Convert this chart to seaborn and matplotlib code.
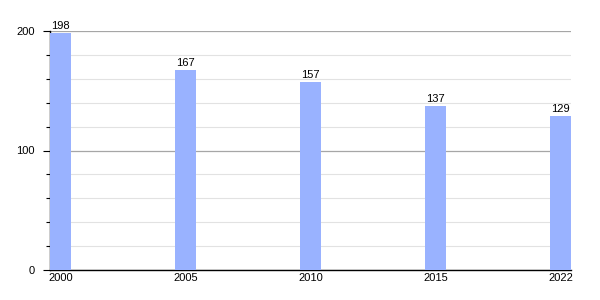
import matplotlib
matplotlib.use("Agg")
import matplotlib.pyplot as plt
from matplotlib.ticker import MultipleLocator
import seaborn as sns
import pandas as pd

years = ["2000", "2005", "2010", "2015", "2022"]
values = [198, 167, 157, 137, 129]

sns.set_style("white")
plt.rcParams["font.family"] = ["Liberation Sans", "DejaVu Sans"]
plt.rcParams["text.color"] = "black"
plt.rcParams["xtick.color"] = "black"
plt.rcParams["ytick.color"] = "black"

df = pd.DataFrame({"year": years, "value": values})

fig = plt.figure(figsize=(6, 3), dpi=100)
ax = fig.add_axes([50/600, 30/300, 521/600, 239/300])

sns.barplot(data=df, x="year", y="value", color="#99b2ff", width=0.168,
            saturation=1, ax=ax, zorder=3, linewidth=0, edgecolor="none")

ax.set_xlim(-0.084, 4.084)
ax.set_ylim(0, 200)
ax.yaxis.set_major_locator(MultipleLocator(100))
ax.yaxis.set_minor_locator(MultipleLocator(20))
ax.grid(which="major", axis="y", color="#a6a6a6", linewidth=0.9, zorder=1)
ax.grid(which="minor", axis="y", color="#e2e2e2", linewidth=0.8, zorder=1)
ax.set_axisbelow(True)

for s in ["top", "right"]:
    ax.spines[s].set_visible(False)
for s in ["left", "bottom"]:
    ax.spines[s].set_color("black")
    ax.spines[s].set_linewidth(1.0)

ax.tick_params(axis="y", which="major", length=5, width=0.8, color="black",
               labelsize=8, pad=6, left=True, labelcolor="black")
ax.tick_params(axis="y", which="minor", length=3, width=0.8, color="black", left=True)
ax.tick_params(axis="x", length=0, labelsize=8, pad=2, labelcolor="black")
ax.set_xlabel("")
ax.set_ylabel("")

for c in ax.containers:
    ax.bar_label(c, labels=[str(v) for v in values], fontsize=8, padding=1.5,
                 color="black")

fig.savefig("out.png", dpi=100)
